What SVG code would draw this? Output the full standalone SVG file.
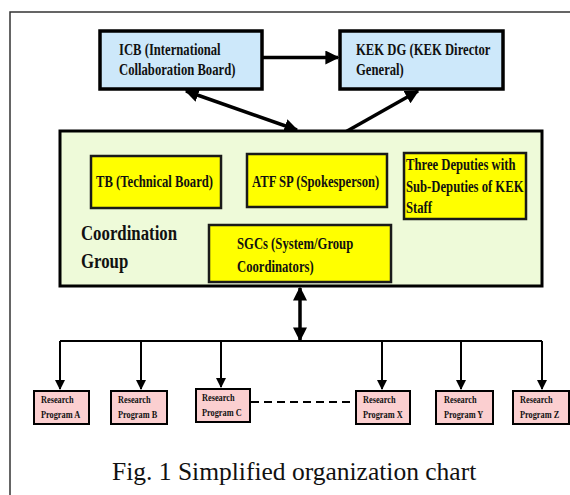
<svg xmlns="http://www.w3.org/2000/svg" width="570" height="495" viewBox="0 0 570 495">
  <style>
    .frame { fill: none; stroke: #333; stroke-width: 1.5; }
    .top { fill: #cde8fa; stroke: #000; stroke-width: 3.5; }
    .group { fill: #eefad9; stroke: #000; stroke-width: 3; }
    .core { fill: #ffff00; stroke: #1a1a1a; stroke-width: 2.5; }
    .prog { fill: #fbcfd0; stroke: #000; stroke-width: 2; }
    .link { stroke: #000; fill: none; }
    /* box labels: condensed bold Times-style serif */
    .lbl { font-family: "Liberation Serif", "Times New Roman", serif; font-weight: bold; fill: #111; }
    .b17 { font-size: 17px; }
    .b20 { font-size: 20px; }
    .b10 { font-size: 10px; }
    .cap { font-family: "Liberation Serif", "Times New Roman", serif; font-size: 25.5px; fill: #111; }
  </style>
  <defs>
    <marker id="ah" viewBox="0 0 10 10" refX="9" refY="5" markerWidth="4" markerHeight="4" orient="auto-start-reverse" markerUnits="strokeWidth">
      <path d="M0,0 L10,5 L0,10 z" fill="#000"/>
    </marker>
    <marker id="ahs" viewBox="0 0 10 10" refX="9" refY="5" markerWidth="5" markerHeight="6" orient="auto" markerUnits="strokeWidth">
      <path d="M0,0 L10,5 L0,10 z" fill="#000"/>
    </marker>
  </defs>

  <rect width="570" height="495" fill="#fff"/>
  <!-- page frame, open to the right and bottom -->
  <rect class="frame" x="10" y="12" width="580" height="500"/>

  <g id="connectors">
    <!-- ICB to KEK DG -->
    <line class="link" x1="262" y1="57.5" x2="338" y2="57.5" stroke-width="3.5" marker-end="url(#ah)"/>
    <!-- ICB to coordination group -->
    <line class="link" x1="186" y1="91" x2="297" y2="130" stroke-width="3.5" marker-start="url(#ah)" marker-end="url(#ah)"/>
    <!-- KEK DG to spokesperson -->
    <line class="link" x1="418" y1="91" x2="310" y2="152" stroke-width="3.5" marker-start="url(#ah)" marker-end="url(#ah)"/>
    <!-- links inside the coordination group -->
    <line class="link" x1="221" y1="182" x2="247" y2="182" stroke-width="5"/>
    <line class="link" x1="387" y1="182" x2="404" y2="182" stroke-width="5"/>
    <line class="link" x1="301" y1="207" x2="301" y2="225" stroke-width="3"/>
    <!-- coordination group to bus -->
    <line class="link" x1="300" y1="288" x2="300" y2="340" stroke-width="3.5" marker-start="url(#ah)" marker-end="url(#ah)"/>
    <!-- bus -->
    <line class="link" x1="60" y1="341" x2="542" y2="341" stroke-width="2"/>
    <!-- drops to research programs -->
    <line class="link" x1="60" y1="341" x2="60" y2="389" stroke-width="2" marker-end="url(#ahs)"/>
    <line class="link" x1="141" y1="341" x2="141" y2="389" stroke-width="2" marker-end="url(#ahs)"/>
    <line class="link" x1="221" y1="341" x2="221" y2="387" stroke-width="2" marker-end="url(#ahs)"/>
    <line class="link" x1="382" y1="341" x2="382" y2="389" stroke-width="2" marker-end="url(#ahs)"/>
    <line class="link" x1="461" y1="341" x2="461" y2="389" stroke-width="2" marker-end="url(#ahs)"/>
    <line class="link" x1="542" y1="341" x2="542" y2="389" stroke-width="2" marker-end="url(#ahs)"/>
    <!-- C to X continuation -->
    <line class="link" x1="251" y1="402" x2="355" y2="402" stroke-width="2" stroke-dasharray="8,5"/>
  </g>

  <g id="icb">
    <rect class="top" x="100" y="31" width="162" height="58"/>
    <text class="lbl b17" transform="translate(119,54.5) scale(0.745,1)">ICB (International</text>
    <text class="lbl b17" transform="translate(119,75) scale(0.745,1)">Collaboration Board)</text>
  </g>

  <g id="kek-dg">
    <rect class="top" x="340" y="31" width="163" height="58"/>
    <text class="lbl b17" transform="translate(356,54.5) scale(0.745,1)">KEK DG (KEK Director</text>
    <text class="lbl b17" transform="translate(356,75) scale(0.745,1)">General)</text>
  </g>

  <g id="coordination-group">
    <rect class="group" x="60" y="131" width="482" height="155"/>
    <text class="lbl b20" transform="translate(81,240) scale(0.84,1)">Coordination</text>
    <text class="lbl b20" transform="translate(81,268) scale(0.84,1)">Group</text>
  </g>

  <g id="tb">
    <rect class="core" x="91" y="156" width="130" height="52"/>
    <text class="lbl b17" transform="translate(96,187) scale(0.745,1)">TB (Technical Board)</text>
  </g>

  <g id="atf-sp">
    <rect class="core" x="247" y="154" width="140" height="53"/>
    <text class="lbl b17" transform="translate(252,187) scale(0.745,1)">ATF SP (Spokesperson)</text>
  </g>

  <g id="deputies">
    <rect class="core" x="404" y="153" width="122" height="66"/>
    <text class="lbl b17" transform="translate(406,170) scale(0.745,1)">Three Deputies with</text>
    <text class="lbl b17" transform="translate(406,192) scale(0.745,1)">Sub-Deputies of KEK</text>
    <text class="lbl b17" transform="translate(406,213) scale(0.745,1)">Staff</text>
  </g>

  <g id="sgcs">
    <rect class="core" x="209" y="225" width="182" height="57"/>
    <text class="lbl b17" transform="translate(237,249) scale(0.745,1)">SGCs (System/Group</text>
    <text class="lbl b17" transform="translate(237,272) scale(0.745,1)">Coordinators)</text>
  </g>

  <g id="program-a">
    <rect class="prog" x="34" y="391" width="55" height="33"/>
    <text class="lbl b10" transform="translate(41,403) scale(0.83,1)">Research</text>
    <text class="lbl b10" transform="translate(41,418) scale(0.83,1)">Program A</text>
  </g>
  <g id="program-b">
    <rect class="prog" x="111" y="391" width="56" height="33"/>
    <text class="lbl b10" transform="translate(118,403) scale(0.83,1)">Research</text>
    <text class="lbl b10" transform="translate(118,418) scale(0.83,1)">Program B</text>
  </g>
  <g id="program-c">
    <rect class="prog" x="196" y="389" width="54" height="33"/>
    <text class="lbl b10" transform="translate(202,401) scale(0.83,1)">Research</text>
    <text class="lbl b10" transform="translate(202,416) scale(0.83,1)">Program C</text>
  </g>
  <g id="program-x">
    <rect class="prog" x="356" y="391" width="54" height="33"/>
    <text class="lbl b10" transform="translate(363,403) scale(0.83,1)">Research</text>
    <text class="lbl b10" transform="translate(363,418) scale(0.83,1)">Program X</text>
  </g>
  <g id="program-y">
    <rect class="prog" x="436" y="391" width="57" height="33"/>
    <text class="lbl b10" transform="translate(444,403) scale(0.83,1)">Research</text>
    <text class="lbl b10" transform="translate(444,418) scale(0.83,1)">Program Y</text>
  </g>
  <g id="program-z">
    <rect class="prog" x="513" y="391" width="56" height="33"/>
    <text class="lbl b10" transform="translate(520,403) scale(0.83,1)">Research</text>
    <text class="lbl b10" transform="translate(520,418) scale(0.83,1)">Program Z</text>
  </g>

  <text class="cap" x="112" y="480">Fig. 1 Simplified organization chart</text>
</svg>
